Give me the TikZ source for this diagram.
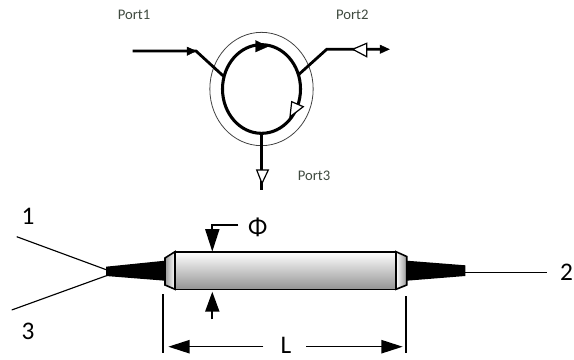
\documentclass[tikz,border=0pt]{standalone}
\usepackage{fontspec}
\setmainfont{Carlito}
\usetikzlibrary{arrows.meta,shapes.geometric}
\definecolor{portcol}{HTML}{3F4A3F}
\tikzset{
  x=0.75pt,y=-0.75pt,
  thickline/.style={line width=2.1pt,black},
  fibre/.style={line width=0.85pt,black},
  outline/.style={line width=1.2pt,black},
  dimline/.style={line width=1.5pt,black},
  dimarrow/.style={line width=1.1pt,black,-{Triangle[length=16pt,width=10pt]}},
  blackhead/.style={fill=black,draw=black,line width=0.3pt},
  openhead/.style={fill=white,draw=black,line width=0.9pt},
  portlabel/.style={font=\fontsize{11}{13}\selectfont,text=portcol,inner sep=0pt},
  biglabel/.style={font=\fontsize{19}{21}\selectfont,text=black,inner sep=0pt},
}
\begin{document}
\begin{tikzpicture}
\useasboundingbox (0,0) rectangle (574,360);
% circulator
\node[draw=black!75,line width=0.6pt,ellipse,minimum width=77.5pt,minimum height=85pt,inner sep=0pt] (outerring) at (261.5,89) {};
\node[draw=black,line width=2.3pt,ellipse,minimum width=58.5pt,minimum height=66.5pt,inner sep=0pt] (innerring) at (261.5,89) {};
\coordinate (p1start) at (132.7,51);
\coordinate (p1bend) at (196,51);
\coordinate (p1end) at (223.3,76);
\coordinate (p2start) at (299.3,74);
\coordinate (p2bend) at (326.7,49.3);
\coordinate (p2end) at (385,49.3);
\coordinate (p3start) at (261.3,133);
\coordinate (p3end) at (261.3,190);
\draw[thickline,line join=miter] (p1start) -- (p1bend) -- (p1end);
\draw[thickline,line join=miter] (p2start) -- (p2bend) -- (p2end);
\draw[thickline] (p3start) -- (p3end);
\fill[blackhead] (187,47) -- (196,51) -- (187,55.5) -- cycle;
\fill[blackhead] (380,45) -- (389.3,49.3) -- (380,53.5) -- cycle;
\filldraw[blackhead] (255.5,40.5) -- (268,46.5) -- (255.5,52) -- cycle;
\filldraw[openhead] (291.7,101.7) -- (303.3,106.7) -- (290,116.7) -- cycle;
\filldraw[openhead] (352.7,49.3) -- (366.7,43.3) -- (366.7,56.7) -- cycle;
\filldraw[openhead] (256.7,170) -- (268.3,170) -- (262,183.3) -- cycle;
\node[portlabel] (port1) at (134,14.5) {Port1};
\node[portlabel] (port2) at (352.3,14.5) {Port2};
\node[portlabel] (port3) at (314,175.7) {Port3};
% coupler
\coordinate (f1) at (16.7,236.7);
\coordinate (f3) at (11.7,310);
\coordinate (fa) at (107,270);
\coordinate (fb) at (107,275.5);
\coordinate (f2a) at (465,272.7);
\coordinate (f2b) at (546.7,272.7);
\draw[fibre] (f1) -- (fa);
\draw[fibre] (f3) -- (fb);
\draw[fibre] (f2a) -- (f2b);
\fill[black] (106,266.7) -- (165,260.7) -- (165,280.7) -- (106,276) -- cycle;
\fill[black] (406.7,260.7) -- (465.3,265.3) -- (465.3,276) -- (406.7,280.7) -- cycle;
\draw[outline,left color=black!40,right color=white] (175,251.7) -- (165,258) -- (165,285) -- (175,289.3) -- cycle;
\draw[outline,left color=white,right color=black!40] (396,251.7) -- (406.7,256.5) -- (406.7,285) -- (396,289.3) -- cycle;
\draw[outline,top color=white,middle color=black!12,bottom color=black!42] (175,251.7) rectangle (396,289.3);
% phi
\coordinate (phis) at (238.3,225);
\coordinate (phib) at (212.3,225);
\coordinate (phit) at (212.3,251.7);
\coordinate (phil) at (212.3,319.3);
\coordinate (phiu) at (212.3,291.7);
\draw[line width=1.5pt,-{Triangle[length=17pt,width=10.5pt]}] (phis) -- (phib) -- (phit);
\draw[line width=1.5pt,-{Triangle[length=15pt,width=10.5pt]}] (phil) -- (phiu);
\node[biglabel] (phi) at (257.7,227) {Φ};
\node[biglabel] (one) at (28,216.7) {1};
\node[biglabel] (three) at (28,331.7) {3};
\node[biglabel] (two) at (566.5,272) {2};
\node[biglabel] (ell) at (286,345.5) {L};
% dimension
\coordinate (dl1) at (163.3,294);
\coordinate (dl2) at (163.3,353.3);
\coordinate (dr1) at (406.3,296);
\coordinate (dr2) at (406.3,353.3);
\draw[dimline] (dl1) -- (dl2);
\draw[dimline] (dr1) -- (dr2);
\coordinate (al) at (263.3,346.7);
\coordinate (ar) at (306,346.7);
\coordinate (tl) at (168.3,346.7);
\coordinate (tr) at (402.7,346.7);
\draw[dimarrow] (al) -- (tl);
\draw[dimarrow] (ar) -- (tr);
\end{tikzpicture}
\end{document}
